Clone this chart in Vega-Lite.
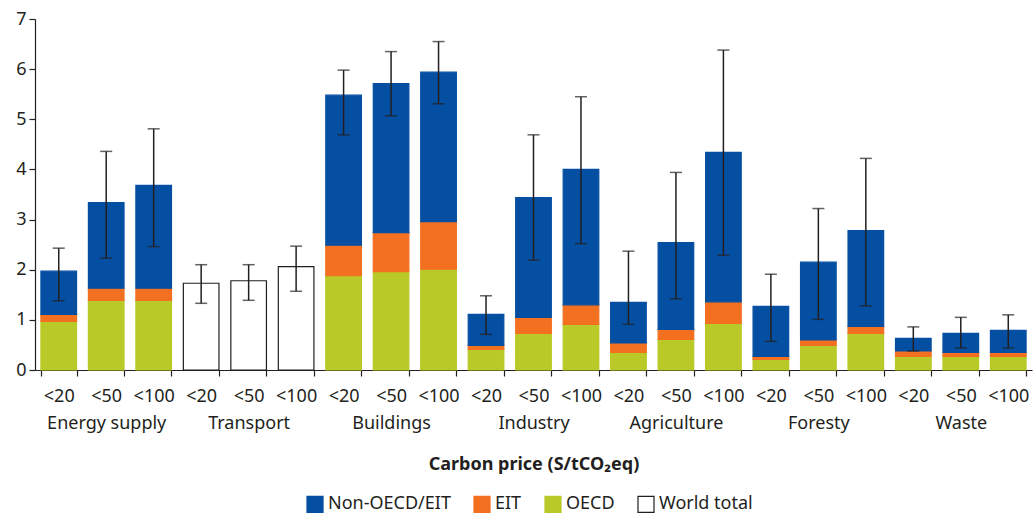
{
  "$schema": "https://vega.github.io/schema/vega-lite/v6.json",
  "autosize": "none",
  "width": 997,
  "height": 351,
  "padding": {"left": 35, "top": 19, "right": 1, "bottom": 144},
  "background": "white",
  "config": {
    "font": "Noto Sans",
    "view": {"stroke": null},
    "axis": {"domainColor": "#231f20", "tickColor": "#231f20", "labelColor": "#231f20", "titleColor": "#231f20", "grid": false, "labelFontSize": 18, "domainWidth": 1.2, "tickWidth": 1.2}
  },
  "datasets": {
    "bars": [
      {"sector": "Energy supply", "price": "<20", "region": "OECD", "value": 0.97},
      {"sector": "Energy supply", "price": "<20", "region": "EIT", "value": 0.14},
      {"sector": "Energy supply", "price": "<20", "region": "Non-OECD/EIT", "value": 0.86},
      {"sector": "Energy supply", "price": "<50", "region": "OECD", "value": 1.39},
      {"sector": "Energy supply", "price": "<50", "region": "EIT", "value": 0.24},
      {"sector": "Energy supply", "price": "<50", "region": "Non-OECD/EIT", "value": 1.71},
      {"sector": "Energy supply", "price": "<100", "region": "OECD", "value": 1.39},
      {"sector": "Energy supply", "price": "<100", "region": "EIT", "value": 0.24},
      {"sector": "Energy supply", "price": "<100", "region": "Non-OECD/EIT", "value": 2.05},
      {"sector": "Transport", "price": "<20", "region": "World total", "value": 1.73},
      {"sector": "Transport", "price": "<50", "region": "World total", "value": 1.78},
      {"sector": "Transport", "price": "<100", "region": "World total", "value": 2.06},
      {"sector": "Buildings", "price": "<20", "region": "OECD", "value": 1.88},
      {"sector": "Buildings", "price": "<20", "region": "EIT", "value": 0.61},
      {"sector": "Buildings", "price": "<20", "region": "Non-OECD/EIT", "value": 2.99},
      {"sector": "Buildings", "price": "<50", "region": "OECD", "value": 1.96},
      {"sector": "Buildings", "price": "<50", "region": "EIT", "value": 0.78},
      {"sector": "Buildings", "price": "<50", "region": "Non-OECD/EIT", "value": 2.97},
      {"sector": "Buildings", "price": "<100", "region": "OECD", "value": 2.01},
      {"sector": "Buildings", "price": "<100", "region": "EIT", "value": 0.95},
      {"sector": "Buildings", "price": "<100", "region": "Non-OECD/EIT", "value": 2.98},
      {"sector": "Industry", "price": "<20", "region": "OECD", "value": 0.41},
      {"sector": "Industry", "price": "<20", "region": "EIT", "value": 0.08},
      {"sector": "Industry", "price": "<20", "region": "Non-OECD/EIT", "value": 0.62},
      {"sector": "Industry", "price": "<50", "region": "OECD", "value": 0.73},
      {"sector": "Industry", "price": "<50", "region": "EIT", "value": 0.32},
      {"sector": "Industry", "price": "<50", "region": "Non-OECD/EIT", "value": 2.39},
      {"sector": "Industry", "price": "<100", "region": "OECD", "value": 0.91},
      {"sector": "Industry", "price": "<100", "region": "EIT", "value": 0.39},
      {"sector": "Industry", "price": "<100", "region": "Non-OECD/EIT", "value": 2.70},
      {"sector": "Agriculture", "price": "<20", "region": "OECD", "value": 0.35},
      {"sector": "Agriculture", "price": "<20", "region": "EIT", "value": 0.19},
      {"sector": "Agriculture", "price": "<20", "region": "Non-OECD/EIT", "value": 0.81},
      {"sector": "Agriculture", "price": "<50", "region": "OECD", "value": 0.61},
      {"sector": "Agriculture", "price": "<50", "region": "EIT", "value": 0.20},
      {"sector": "Agriculture", "price": "<50", "region": "Non-OECD/EIT", "value": 1.73},
      {"sector": "Agriculture", "price": "<100", "region": "OECD", "value": 0.93},
      {"sector": "Agriculture", "price": "<100", "region": "EIT", "value": 0.43},
      {"sector": "Agriculture", "price": "<100", "region": "Non-OECD/EIT", "value": 2.98},
      {"sector": "Foresty", "price": "<20", "region": "OECD", "value": 0.21},
      {"sector": "Foresty", "price": "<20", "region": "EIT", "value": 0.06},
      {"sector": "Foresty", "price": "<20", "region": "Non-OECD/EIT", "value": 1.00},
      {"sector": "Foresty", "price": "<50", "region": "OECD", "value": 0.49},
      {"sector": "Foresty", "price": "<50", "region": "EIT", "value": 0.11},
      {"sector": "Foresty", "price": "<50", "region": "Non-OECD/EIT", "value": 1.55},
      {"sector": "Foresty", "price": "<100", "region": "OECD", "value": 0.73},
      {"sector": "Foresty", "price": "<100", "region": "EIT", "value": 0.14},
      {"sector": "Foresty", "price": "<100", "region": "Non-OECD/EIT", "value": 1.91},
      {"sector": "Waste", "price": "<20", "region": "OECD", "value": 0.27},
      {"sector": "Waste", "price": "<20", "region": "EIT", "value": 0.11},
      {"sector": "Waste", "price": "<20", "region": "Non-OECD/EIT", "value": 0.25},
      {"sector": "Waste", "price": "<50", "region": "OECD", "value": 0.27},
      {"sector": "Waste", "price": "<50", "region": "EIT", "value": 0.08},
      {"sector": "Waste", "price": "<50", "region": "Non-OECD/EIT", "value": 0.38},
      {"sector": "Waste", "price": "<100", "region": "OECD", "value": 0.27},
      {"sector": "Waste", "price": "<100", "region": "EIT", "value": 0.08},
      {"sector": "Waste", "price": "<100", "region": "Non-OECD/EIT", "value": 0.44}
    ],
    "errs": [
      {"sector": "Energy supply", "price": "<20", "lo": 1.38, "hi": 2.43},
      {"sector": "Energy supply", "price": "<50", "lo": 2.23, "hi": 4.36},
      {"sector": "Energy supply", "price": "<100", "lo": 2.46, "hi": 4.81},
      {"sector": "Transport", "price": "<20", "lo": 1.33, "hi": 2.10},
      {"sector": "Transport", "price": "<50", "lo": 1.39, "hi": 2.10},
      {"sector": "Transport", "price": "<100", "lo": 1.57, "hi": 2.47},
      {"sector": "Buildings", "price": "<20", "lo": 4.69, "hi": 5.98},
      {"sector": "Buildings", "price": "<50", "lo": 5.07, "hi": 6.35},
      {"sector": "Buildings", "price": "<100", "lo": 5.31, "hi": 6.55},
      {"sector": "Industry", "price": "<20", "lo": 0.71, "hi": 1.48},
      {"sector": "Industry", "price": "<50", "lo": 2.19, "hi": 4.69},
      {"sector": "Industry", "price": "<100", "lo": 2.52, "hi": 5.45},
      {"sector": "Agriculture", "price": "<20", "lo": 0.91, "hi": 2.37},
      {"sector": "Agriculture", "price": "<50", "lo": 1.42, "hi": 3.94},
      {"sector": "Agriculture", "price": "<100", "lo": 2.29, "hi": 6.38},
      {"sector": "Foresty", "price": "<20", "lo": 0.57, "hi": 1.91},
      {"sector": "Foresty", "price": "<50", "lo": 1.01, "hi": 3.22},
      {"sector": "Foresty", "price": "<100", "lo": 1.28, "hi": 4.22},
      {"sector": "Waste", "price": "<20", "lo": 0.38, "hi": 0.86},
      {"sector": "Waste", "price": "<50", "lo": 0.44, "hi": 1.05},
      {"sector": "Waste", "price": "<100", "lo": 0.44, "hi": 1.10}
    ]
  },
  "layer": [
    {
      "data": {"name": "bars"},
      "transform": [
        {"calculate": "datum.sector + '|' + datum.price", "as": "key"},
        {"calculate": "indexof(['OECD','EIT','Non-OECD/EIT','World total'], datum.region)", "as": "stackOrder"}
      ],
      "mark": {"type": "bar", "strokeWidth": 1.2},
      "encoding": {
        "x": {
          "field": "key",
          "type": "nominal",
          "scale": {
            "domain": ["Energy supply|<20", "Energy supply|<50", "Energy supply|<100", "Transport|<20", "Transport|<50", "Transport|<100", "Buildings|<20", "Buildings|<50", "Buildings|<100", "Industry|<20", "Industry|<50", "Industry|<100", "Agriculture|<20", "Agriculture|<50", "Agriculture|<100", "Foresty|<20", "Foresty|<50", "Foresty|<100", "Waste|<20", "Waste|<50", "Waste|<100"],
            "paddingInner": 0.25,
            "paddingOuter": 0.125
          },
          "axis": {
            "title": "Carbon price (S/tCO₂eq)",
            "titleFontSize": 18,
            "titleFontWeight": "bold",
            "titlePadding": 23,
            "labelAngle": 0,
            "labelOverlap": false,
            "labelBound": false,
            "labelPadding": 11,
            "labelLineHeight": 27,
            "labelBaseline": "top",
            "tickBand": "extent",
            "tickSize": 6,
            "labelExpr": "split(datum.value, '|')[1] == '<50' ? [split(datum.value, '|')[1], split(datum.value, '|')[0]] : split(datum.value, '|')[1]"
          }
        },
        "y": {
          "field": "value",
          "type": "quantitative",
          "stack": "zero",
          "scale": {"domain": [0, 7], "nice": false},
          "axis": {"title": null, "values": [0, 1, 2, 3, 4, 5, 6, 7], "tickSize": 6, "labelPadding": 3}
        },
        "color": {
          "field": "region",
          "type": "nominal",
          "scale": {"domain": ["Non-OECD/EIT", "EIT", "OECD", "World total"], "range": ["#044fa2", "#f37021", "#b9c927", "#ffffff"]},
          "legend": {"title": null, "orient": "none", "legendX": 271, "legendY": 476, "direction": "horizontal", "symbolType": "square", "symbolSize": 256, "labelFontSize": 18, "labelColor": "#231f20", "columnPadding": 20, "symbolStrokeWidth": 1.2}
        },
        "stroke": {
          "field": "region",
          "type": "nominal",
          "scale": {"domain": ["Non-OECD/EIT", "EIT", "OECD", "World total"], "range": ["#044fa2", "#f37021", "#b9c927", "#231f20"]},
          "legend": {"title": null, "orient": "none", "legendX": 271, "legendY": 476, "direction": "horizontal", "symbolType": "square", "symbolSize": 256, "labelFontSize": 18, "labelColor": "#231f20", "columnPadding": 20, "symbolStrokeWidth": 1.2}
        },
        "order": {"field": "stackOrder", "type": "quantitative"}
      }
    },
    {
      "data": {"name": "errs"},
      "transform": [{"calculate": "datum.sector + '|' + datum.price", "as": "key"}],
      "mark": {"type": "rule", "color": "#231f20", "strokeWidth": 1.5},
      "encoding": {
        "x": {"field": "key", "type": "nominal"},
        "y": {"field": "lo", "type": "quantitative"},
        "y2": {"field": "hi"}
      }
    },
    {
      "data": {"name": "errs"},
      "transform": [{"calculate": "datum.sector + '|' + datum.price", "as": "key"}],
      "mark": {"type": "tick", "color": "#231f20", "size": 12, "thickness": 1.5},
      "encoding": {
        "x": {"field": "key", "type": "nominal"},
        "y": {"field": "lo", "type": "quantitative"}
      }
    },
    {
      "data": {"name": "errs"},
      "transform": [{"calculate": "datum.sector + '|' + datum.price", "as": "key"}],
      "mark": {"type": "tick", "color": "#231f20", "size": 12, "thickness": 1.5},
      "encoding": {
        "x": {"field": "key", "type": "nominal"},
        "y": {"field": "hi", "type": "quantitative"}
      }
    }
  ]
}
